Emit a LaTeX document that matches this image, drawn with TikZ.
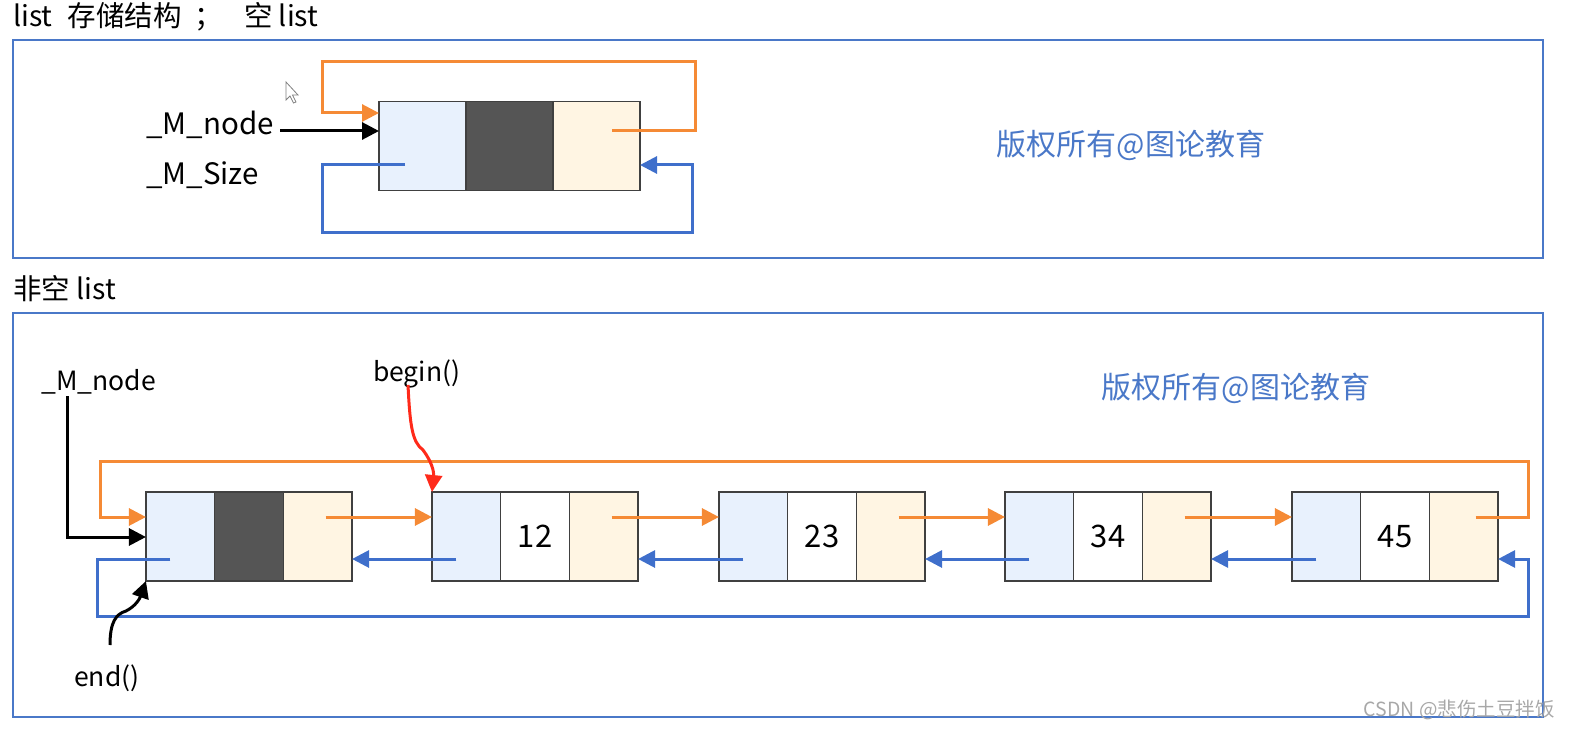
\documentclass[tikz,border=0pt]{standalone}
\usepackage{fontspec}
\setmainfont{Noto Sans CJK SC}
\usetikzlibrary{arrows.meta,calc}
\definecolor{frameblue}{HTML}{4A78C8}
\definecolor{lineblue}{HTML}{3F6FCB}
\definecolor{lorange}{HTML}{F58A35}
\definecolor{cellblue}{HTML}{E8F1FD}
\definecolor{cellcream}{HTML}{FFF5E3}
\definecolor{celldark}{HTML}{555555}
\definecolor{cellborder}{HTML}{404040}
\definecolor{wmblue}{HTML}{4A78C8}
\definecolor{redarrow}{HTML}{FF2A1A}
\definecolor{csdngray}{HTML}{A8A8A8}
\tikzset{
  frame/.style={draw=frameblue, line width=2.6pt},
  cellbase/.style={draw=cellborder, line width=1.6pt, minimum height=89pt, inner sep=0pt, outer sep=0pt},
  pcellT/.style={cellbase, fill=cellblue, minimum width=87pt},
  dcellT/.style={cellbase, fill=celldark, minimum width=87pt},
  ncellT/.style={cellbase, fill=cellcream, minimum width=87pt},
  pcell/.style={cellbase, fill=cellblue, minimum width=68.7pt},
  dcell/.style={cellbase, fill=white, minimum width=68.7pt, font=\fontsize{31}{35}\selectfont},
  hcell/.style={cellbase, fill=celldark, minimum width=68.7pt},
  ncell/.style={cellbase, fill=cellcream, minimum width=68.7pt},
  tip/.style={-{Triangle[length=17pt,width=17pt]}},
  oarr/.style={tip, draw=lorange, line width=3pt},
  barr/.style={tip, draw=lineblue, line width=3pt},
  karr/.style={tip, draw=black, line width=3pt},
  rarr/.style={tip, draw=redarrow, line width=3pt},
  title/.style={anchor=base west, inner sep=0pt, font=\fontsize{28.5}{33}\selectfont},
  lbl/.style={anchor=base west, inner sep=0pt, font=\fontsize{29.5}{34}\selectfont},
  lbls/.style={anchor=base west, inner sep=0pt, font=\fontsize{26.5}{31}\selectfont},
  wm/.style={inner sep=0pt, text=wmblue, font=\fontsize{30}{34}\selectfont},
}
\begin{document}
\begin{tikzpicture}[x=1pt,y=-1pt]
\useasboundingbox (0,0) rectangle (1571,730);
% titles
\node[title] (t1) at (13,27) {list\hspace{15pt}存储结构\hspace{13pt}；\hspace{21pt}空 list};
\node[title] (t2) at (13,299) {非空 list};
% frames
\draw[frame] (13,40) rectangle (1543,258);
\draw[frame] (13,313) rectangle (1543,717);
% watermarks
\node[wm] (wm1) at (1131,145) {版权所有@图论教育};
\node[wm] (wm2) at (1236,388) {版权所有@图论教育};
\node[anchor=east, inner sep=0pt, text=csdngray, font=\fontsize{19.5}{22}\selectfont] (csdn) at (1555,710) {CSDN @悲伤土豆拌饭};

% ---- top (empty list) ----
\node[pcellT] (tp) at (422.5,146) {};
\node[dcellT] (td) at (509.5,146) {};
\node[ncellT] (tn) at (596.5,146) {};
\node[lbl] (lmt) at (146,135) {\_M\_node};
\node[lbl] (lst) at (146,185) {\_M\_Size};
\coordinate (tk) at (280,131);
\draw[karr] (tk) -- (tk -| tp.west);
\coordinate (to) at ($(tn.center)+(15.5,-15)$);
\coordinate (toA) at (695,62);
\coordinate (toB) at (322,113);
\draw[oarr] (to) -| (toA) -| (toB) -- (toB -| tp.west);
\coordinate (tb) at ($(tp.center)+(-17.5,19)$);
\coordinate (tbA) at (322,232);
\coordinate (tbB) at (692,165);
\draw[barr] (tb) -| (tbA) -| (tbB) -- (tbB -| tn.east);
% mouse cursor
\draw[gray, line width=0.8pt, fill=white] (286,82) -- (286,100) -- (290,96) -- (293.5,103) -- (296,102) -- (292.5,95) -- (298,95) -- cycle;

% ---- bottom (non-empty list) ----
\node[pcell] (n0p) at (180.3,536.5) {};
\node[hcell] (n0d) at (249,536.5) {};
\node[ncell] (n0n) at (317.7,536.5) {};
\node[pcell] (n1p) at (466.3,536.5) {};
\node[dcell] (n1d) at (535,536.5) {12};
\node[ncell] (n1n) at (603.7,536.5) {};
\node[pcell] (n2p) at (753.3,536.5) {};
\node[dcell] (n2d) at (822,536.5) {23};
\node[ncell] (n2n) at (890.7,536.5) {};
\node[pcell] (n3p) at (1039.3,536.5) {};
\node[dcell] (n3d) at (1108,536.5) {34};
\node[ncell] (n3n) at (1176.7,536.5) {};
\node[pcell] (n4p) at (1326.3,536.5) {};
\node[dcell] (n4d) at (1395,536.5) {45};
\node[ncell] (n4n) at (1463.7,536.5) {};

% forward (orange) links
\foreach \a/\b in {0/1,1/2,2/3,3/4}{
  \coordinate (o\a) at ($(n\a n.center)+(8,-19.5)$);
  \draw[oarr] (o\a) -- (o\a -| n\b p.west);
}
\coordinate (o4) at ($(n4n.center)+(12,-19.5)$);
\coordinate (oA) at (1528,461);
\coordinate (oB) at (100,517);
\draw[oarr] (o4) -| (oA) -| (oB) -- (oB -| n0p.west);

% backward (blue) links
\foreach \a/\b in {1/0,2/1,3/2,4/3}{
  \coordinate (b\a) at ($(n\a p.center)+(-10,22.5)$);
  \draw[barr] (b\a) -- (b\a -| n\b n.east);
}
\coordinate (b0) at ($(n0p.center)+(-10,22.5)$);
\coordinate (bA) at (97,616);
\coordinate (bB) at (1528,559);
\draw[barr] (b0) -| (bA) -| (bB) -- (bB -| n4n.east);

% labels
\node[lbls] (lmb) at (41,390) {\_M\_node};
\node[lbls] (lbeg) at (373,381) {begin()};
\node[lbls] (lend) at (74,686) {end()};
\coordinate (kb0) at (67,396);
\coordinate (kb1) at (67,537);
\draw[karr] (kb0) -- (kb1) -- (kb1 -| n0p.west);
\coordinate (rb0) at (408,385);
\coordinate (rb1) at (423,450);
\draw[rarr] (rb0) .. controls (410,425) and (412,442) .. (rb1) .. controls (432,462) and (434,472) .. (n1p.north west);
\coordinate (eb0) at (110,645);
\coordinate (eb1) at (126,611);
\draw[karr] (eb0) .. controls (110,622) and (116,614) .. (eb1) .. controls (136,606) and (140,598) .. (n0p.south west);
\end{tikzpicture}
\end{document}
